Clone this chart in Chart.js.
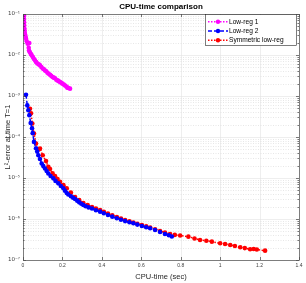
<!DOCTYPE html>
<html>
<head>
<meta charset="utf-8">
<script src="https://cdn.jsdelivr.net/npm/chart.js@4.4.1/dist/chart.umd.min.js"></script>
<style>
html,body{margin:0;padding:0;background:#fff;}
#wrap{width:306px;height:283px;position:relative;}
</style>
</head>
<body>
<div id="wrap"><canvas id="c" width="306" height="283"></canvas></div>
<script>
// ---- data ----
const seriesNames = ['Low-reg 1', 'Low-reg 2', 'Symmetric low-reg'];
const chartTitle = 'CPU-time comparison';
const xTitle = 'CPU-time (sec)';
const yTitle = 'L²-error at time T=1';
const xTickValues = [0, 0.2, 0.4, 0.6, 0.8, 1, 1.2, 1.4];
const yTickLabels = ['10⁻⁷','10⁻⁶','10⁻⁵','10⁻⁴','10⁻³','10⁻²','10⁻¹'];

const lowReg1Time = [0.0050,0.0053,0.0055,0.0060,0.0066,0.0075,0.0086,0.0110,0.0137,0.0152,0.0190,0.0239,0.0320,0.0290,0.0305,0.0350,0.0400,0.0442,0.0500,0.0550,0.0609,0.0670,0.0730,0.0800,0.0863,0.0930,0.1000,0.1060,0.1117,0.1180,0.1240,0.1300,0.1370,0.1430,0.1500,0.1560,0.1624,0.1690,0.1750,0.1810,0.1878,0.1940,0.2000,0.2070,0.2132,0.2200,0.2250,0.2300,0.2386];
const lowReg1Err  = [0.090,0.075,0.063,0.053,0.045,0.040,0.036,0.031,0.0273,0.0249,0.0215,0.0188,0.0195,0.0150,0.0129,0.0117,0.0106,0.0098,0.0089,0.0081,0.0074,0.0067,0.0062,0.0059,0.0056,0.0051,0.0047,0.0045,0.0042,0.0040,0.0037,0.0035,0.0033,0.0031,0.0029,0.0028,0.0027,0.0025,0.0024,0.0023,0.0022,0.0021,0.0020,0.0019,0.0018,0.0017,0.0016,0.00157,0.00151];

const lowReg2Time = [0.0152,0.0218,0.0269,0.0320,0.0390,0.0457,0.0492,0.0558,0.0660,0.0720,0.0777,0.0860,0.0949,0.1030,0.1117,0.1200,0.1284,0.1400,0.1538,0.1650,0.1792,0.1920,0.2046,0.2130,0.2218,0.2300,0.2430,0.2540,0.2640,0.2750,0.2850,0.2960,0.3060,0.3180,0.3330,0.3500,0.3700,0.3910,0.4100,0.4310,0.4530,0.4760,0.4970,0.5180,0.5400,0.5600,0.5800,0.6030,0.6250,0.6450,0.6700,0.6950,0.7200,0.7400,0.7550];
const lowReg2Err  = [1.07e-3,5.9e-4,4.5e-4,3.4e-4,2.2e-4,1.64e-4,1.24e-4,7.6e-5,5.3e-5,4.4e-5,3.6e-5,2.9e-5,2.26e-5,1.95e-5,1.71e-5,1.48e-5,1.29e-5,1.12e-5,9.8e-6,8.5e-6,7.4e-6,6.4e-6,5.6e-6,4.9e-6,4.3e-6,3.95e-6,3.6e-6,3.3e-6,3.07e-6,2.8e-6,2.55e-6,2.35e-6,2.19e-6,2.05e-6,1.92e-6,1.80e-6,1.63e-6,1.51e-6,1.38e-6,1.25e-6,1.14e-6,1.04e-6,9.6e-7,8.9e-7,8.3e-7,7.85e-7,7.3e-7,6.76e-7,6.3e-7,5.94e-7,5.4e-7,4.83e-7,4.3e-7,4.0e-7,3.75e-7];

const symTime = [0.0355,0.0406,0.0472,0.0558,0.0660,0.0777,0.0863,0.1000,0.1168,0.1284,0.1370,0.1500,0.1624,0.1750,0.1878,0.2050,0.2218,0.2430,0.2640,0.2850,0.3060,0.3280,0.3500,0.3700,0.3910,0.4100,0.4310,0.4530,0.4760,0.4970,0.5180,0.5400,0.5600,0.5800,0.6030,0.6250,0.6450,0.6700,0.6950,0.7200,0.7460,0.7700,0.7970,0.8390,0.8700,0.8980,0.9300,0.9580,1.0000,1.0250,1.0510,1.0750,1.1020,1.1250,1.1520,1.1700,1.1860,1.2280];
const symErr  = [4.9e-4,3.8e-4,2.13e-4,1.22e-4,6.95e-5,4.96e-5,5.25e-5,3.6e-5,2.58e-5,1.87e-5,1.65e-5,1.3e-5,1.11e-5,9.4e-6,8.1e-6,6.7e-6,5.6e-6,4.4e-6,3.43e-6,2.9e-6,2.45e-6,2.2e-6,1.96e-6,1.8e-6,1.66e-6,1.5e-6,1.36e-6,1.23e-6,1.12e-6,1.03e-6,9.46e-7,8.8e-7,8.2e-7,7.6e-7,7.15e-7,6.6e-7,6.2e-7,5.6e-7,5.1e-7,4.7e-7,4.3e-7,4.1e-7,3.97e-7,3.71e-7,3.35e-7,3.08e-7,2.95e-7,2.8e-7,2.56e-7,2.45e-7,2.33e-7,2.2e-7,2.05e-7,1.95e-7,1.83e-7,1.85e-7,1.8e-7,1.69e-7];

// ---- build ----
const pts = (xs, ys) => xs.map((x, i) => ({x: x, y: ys[i]}));
const FONT = "'Liberation Sans', Arial, Helvetica, sans-serif";
const colors = ['#ff00ff', '#0000ff', '#ff0000'];
const dashes = [[1.5, 1.5], [4, 2], [1.5, 1.5]];

function mkDs(i, data) {
  return {
    label: seriesNames[i], data: data,
    borderColor: colors[i], backgroundColor: colors[i],
    borderWidth: 1.5, borderDash: dashes[i],
    pointRadius: 2.3, pointBorderWidth: 0, pointHoverRadius: 2.3,
    showLine: true, fill: false, tension: 0
  };
}

const decadeLabel = v => {
  const e = Math.round(Math.log10(v));
  if (Math.abs(Math.log10(v) - e) > 1e-6) return '';
  return yTickLabels[e + 7] || '';
};

const gridPlugin = {
  id: 'matlabGrid',
  beforeDatasetsDraw(chart) {
    const {ctx, chartArea: a, scales: {x, y}} = chart;
    ctx.save();
    ctx.lineWidth = 0.6;
    ctx.strokeStyle = '#e3e3e3';
    ctx.setLineDash([]);
    xTickValues.forEach(v => {
      const px = Math.round(x.getPixelForValue(v)) + 0.5;
      ctx.beginPath(); ctx.moveTo(px, a.top); ctx.lineTo(px, a.bottom); ctx.stroke();
    });
    for (let e = -7; e <= -1; e++) {
      const py = Math.round(y.getPixelForValue(Math.pow(10, e))) + 0.5;
      ctx.strokeStyle = '#e3e3e3'; ctx.setLineDash([]);
      ctx.beginPath(); ctx.moveTo(a.left, py); ctx.lineTo(a.right, py); ctx.stroke();
      if (e < -1) {
        for (let m = 2; m <= 9; m++) {
          const py2 = Math.round(y.getPixelForValue(m * Math.pow(10, e))) + 0.5;
          ctx.strokeStyle = '#d6d6d6'; ctx.setLineDash([1, 1.5]);
          ctx.beginPath(); ctx.moveTo(a.left, py2); ctx.lineTo(a.right, py2); ctx.stroke();
        }
      }
    }
    ctx.restore();
  },
  afterDatasetsDraw(chart) {
    const {ctx, chartArea: a, scales: {x, y}} = chart;
    ctx.save();
    ctx.setLineDash([]);
    ctx.strokeStyle = '#262626';
    ctx.lineWidth = 0.6;
    xTickValues.forEach(v => {
      const px = Math.round(x.getPixelForValue(v)) + 0.5;
      ctx.beginPath(); ctx.moveTo(px, a.bottom); ctx.lineTo(px, a.bottom - 3); ctx.stroke();
      ctx.beginPath(); ctx.moveTo(px, a.top); ctx.lineTo(px, a.top + 3); ctx.stroke();
    });
    for (let e = -7; e <= -1; e++) {
      for (let m = 1; m <= 9; m++) {
        if (e === -1 && m > 1) break;
        const py = Math.round(y.getPixelForValue(m * Math.pow(10, e))) + 0.5;
        const len = m === 1 ? 3 : 1.6;
        ctx.beginPath(); ctx.moveTo(a.left, py); ctx.lineTo(a.left + len, py); ctx.stroke();
        ctx.beginPath(); ctx.moveTo(a.right, py); ctx.lineTo(a.right - len, py); ctx.stroke();
      }
    }
    ctx.strokeStyle = '#4d4d4d';
    ctx.lineWidth = 0.7;
    ctx.strokeRect(Math.round(a.left) + 0.5, Math.round(a.top) + 0.5, Math.round(a.right - a.left), Math.round(a.bottom - a.top));
    ctx.fillStyle = '#000';
    ctx.font = 'bold 8px ' + FONT;
    ctx.textAlign = 'center'; ctx.textBaseline = 'middle';
    ctx.fillText(chartTitle, (a.left + a.right) / 2, 6.5);
    const lx = 205.5, ly = 14.5, lw = 91, lh = 31;
    ctx.fillStyle = '#fff';
    ctx.fillRect(lx, ly, lw, lh);
    ctx.strokeStyle = '#262626'; ctx.lineWidth = 0.6;
    ctx.strokeRect(lx, ly, lw, lh);
    ctx.font = '6.6px ' + FONT;
    ctx.textAlign = 'left'; ctx.textBaseline = 'middle';
    const rows = [21.8, 31, 40.2];
    chart.data.datasets.forEach((ds, i) => {
      const yy = rows[i];
      ctx.strokeStyle = ds.borderColor; ctx.lineWidth = 1.5;
      ctx.setLineDash(ds.borderDash);
      ctx.beginPath(); ctx.moveTo(208, yy); ctx.lineTo(228, yy); ctx.stroke();
      ctx.setLineDash([]);
      ctx.fillStyle = ds.borderColor;
      ctx.beginPath(); ctx.arc(218, yy, 2.2, 0, Math.PI * 2); ctx.fill();
      ctx.fillStyle = '#000';
      ctx.fillText(ds.label, 229, yy + 0.3);
    });
    ctx.restore();
  }
};

new Chart(document.getElementById('c'), {
  type: 'scatter',
  data: {
    datasets: [
      mkDs(0, pts(lowReg1Time, lowReg1Err)),
      mkDs(1, pts(lowReg2Time, lowReg2Err)),
      mkDs(2, pts(symTime, symErr))
    ]
  },
  options: {
    responsive: false, animation: false, devicePixelRatio: 1,
    layout: {padding: {top: 14, right: 7, left: 0, bottom: 0}},
    plugins: {legend: {display: false}, tooltip: {enabled: false}, title: {display: false}},
    scales: {
      x: {
        type: 'linear', min: 0, max: 1.4,
        afterBuildTicks: s => { s.ticks = xTickValues.map(v => ({value: v})); },
        afterFit: s => { s.height = 23; },
        grid: {display: false, drawTicks: false, tickLength: 0}, border: {display: false},
        ticks: {
          autoSkip: false, maxRotation: 0, padding: 3,
          color: '#404040', font: {size: 5, family: FONT},
          callback: v => String(Math.round(v * 10) / 10)
        },
        title: {display: true, text: xTitle, color: '#262626', font: {size: 7.5, family: FONT}, padding: {top: 0, bottom: 2}}
      },
      y: {
        type: 'logarithmic', min: 1e-7, max: 1e-1,
        afterBuildTicks: s => {
          const t = [];
          for (let e = -7; e <= -1; e++) t.push({value: Math.pow(10, e), major: true});
          s.ticks = t;
        },
        afterFit: s => { s.width = 23; },
        grid: {display: false, drawTicks: false, tickLength: 0}, border: {display: false},
        ticks: {
          autoSkip: false, padding: 3,
          color: '#404040', font: {size: 5.5, family: "'DejaVu Sans', " + FONT},
          callback: v => decadeLabel(v)
        },
        title: {display: true, text: yTitle, color: '#262626', font: {size: 7.5, family: FONT}, padding: {top: 3, bottom: 0}}
      }
    }
  },
  plugins: [gridPlugin]
});
</script>
</body>
</html>
